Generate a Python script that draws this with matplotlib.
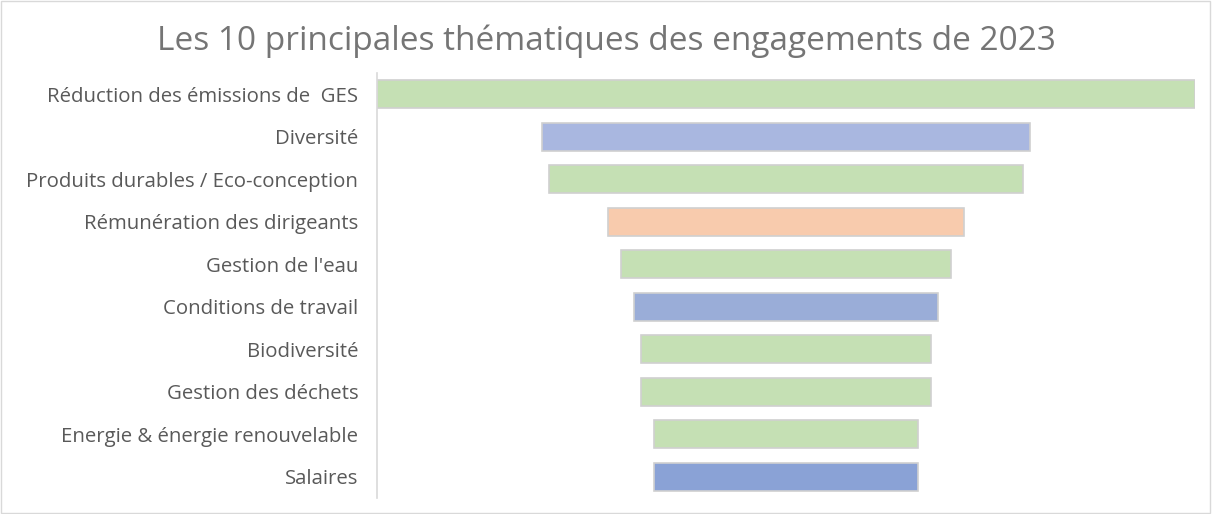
import matplotlib.pyplot as plt
import numpy as np

# Funnel-style chart: bars centred on the middle of the axis
themes = ["Réduction des émissions de  GES", "Diversité",
          "Produits durables / Eco-conception", "Rémunération des dirigeants",
          "Gestion de l'eau", "Conditions de travail", "Biodiversité",
          "Gestion des déchets", "Energie & énergie renouvelable", "Salaires"]
counts = [62, 37, 36, 27, 25, 23, 22, 22, 20, 20]
colors = ["#c5e0b4", "#a9b7e0", "#c5e0b4", "#f8cbad", "#c5e0b4",
          "#9aadd8", "#c5e0b4", "#c5e0b4", "#c5e0b4", "#8aa2d6"]

plt.rcParams['font.family'] = ['Open Sans', 'DejaVu Sans']

fig = plt.figure(figsize=(12.12, 5.14), dpi=100)
ax = fig.add_axes([377 / 1212, 1 - 498 / 514, 818 / 1212, 425 / 514])

total = max(counts)
y = np.arange(len(themes))
lefts = [(total - c) / 2 for c in counts]
ax.barh(y, counts, left=lefts, height=0.66, color=colors,
        edgecolor="#d0d0d0", linewidth=1.2)

ax.set_xlim(0, total)
ax.set_ylim(len(themes) - 0.5, -0.5)
ax.set_yticks(y)
ax.set_yticklabels(themes, fontsize=14.7, color="#595959")
ax.tick_params(axis='y', length=0, pad=13.5)
ax.set_xticks([])
for s in ["top", "right", "bottom"]:
    ax.spines[s].set_visible(False)
ax.spines["left"].set_color("#d9d9d9")
ax.spines["left"].set_linewidth(1.2)

fig.text(0.5, 1 - 41 / 514, "Les 10 principales thématiques des engagements de 2023",
         ha="center", va="center", fontsize=24, color="#757575")

# light frame round the whole chart
fig.patches.append(plt.Rectangle((0.001, 0.002), 0.997, 0.996, transform=fig.transFigure,
                                 fill=False, edgecolor="#d9d9d9", linewidth=1))

fig.savefig("out.png", dpi=100)
